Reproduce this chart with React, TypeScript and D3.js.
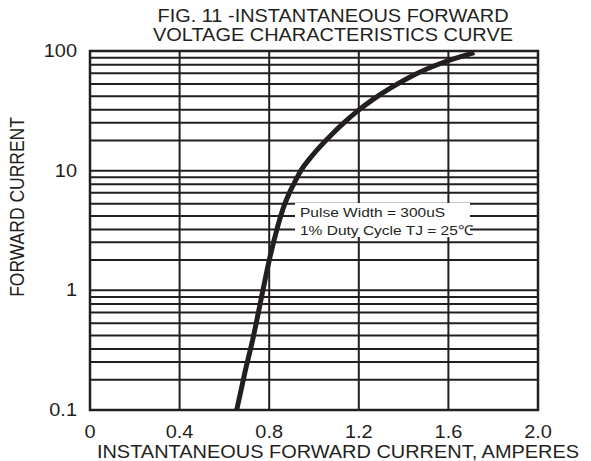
import React from "react";
import * as d3 from "d3";

const X_TICKS = [0, 0.4, 0.8, 1.2, 1.6, 2.0];
const X_TICK_LABELS = ["0", "0.4", "0.8", "1.2", "1.6", "2.0"];
const Y_TICKS = [0.1, 1, 10, 100];
const Y_TICK_LABELS = ["0.1", "1", "10", "100"];
const DECADES = [0.1, 1, 10];
const MINOR_MULTIPLIERS = [1.79, 2.52, 3.23, 4.19, 5.3, 6.53, 7.69, 8.79];

const CURVE_I = [0.1, 0.2, 0.4, 1, 1.78, 3.16, 5, 6.46, 7.94, 10, 12.6, 15.8, 20, 25.1, 31.6, 39.8, 50.1, 63.1, 79.4, 97];
const CURVE_V = [0.655, 0.69, 0.728, 0.772, 0.8, 0.833, 0.865, 0.889, 0.913, 0.941, 0.981, 1.026, 1.078, 1.133, 1.195, 1.267, 1.35, 1.446, 1.57, 1.716];

const TITLE_LINES = ["FIG. 11 -INSTANTANEOUS FORWARD", "VOLTAGE CHARACTERISTICS CURVE"];
const X_TITLE = "INSTANTANEOUS FORWARD CURRENT, AMPERES";
const Y_TITLE = "FORWARD CURRENT";
const LEGEND_LINES = ["Pulse Width = 300uS", "1% Duty Cycle TJ = 25\u2103"];

const W = 591;
const H = 461;
const M = { left: 90, right: 53, top: 51, bottom: 51 };
const INK = "#231f20";
const FONT = "'Liberation Sans', Arial, Helvetica, sans-serif";
const SX = 1.14;

function SText({ x, y, size, anchor = "middle", rotate = 0, children }: any) {
  return (
    <text
      transform={`translate(${x},${y}) scale(${SX},1) rotate(${rotate})`}
      textAnchor={anchor}
      fontSize={size}
      fontFamily={FONT}
      fill={INK}
    >
      {children}
    </text>
  );
}

export default function App() {
  const x = d3.scaleLinear().domain([0, 2]).range([M.left, W - M.right]);
  const y = d3.scaleLog().domain([0.1, 100]).range([H - M.bottom, M.top]);

  const minorVals: number[] = [];
  DECADES.forEach((d) => MINOR_MULTIPLIERS.forEach((m) => minorVals.push(d * m)));
  const hVals = [...Y_TICKS, ...minorVals];

  const pts: [number, number][] = CURVE_V.map((v, i) => [x(v), y(CURVE_I[i])]);
  const line = d3.line().curve(d3.curveMonotoneX)(pts) || "";

  const x0 = x(0), x1 = x(2), yTop = y(100), yBot = y(0.1);

  return (
    <svg width={W} height={H} style={{ position: "absolute", left: 0, top: 0, background: "#fff" }}>
      {hVals.map((v, i) => (
        <line key={"h" + i} x1={x0} x2={x1} y1={y(v)} y2={y(v)} stroke={INK} strokeWidth={2} />
      ))}
      {X_TICKS.map((v, i) => (
        <line key={"v" + i} x1={x(v)} x2={x(v)} y1={yTop} y2={yBot} stroke={INK} strokeWidth={2} />
      ))}
      <rect x={295} y={203} width={175} height={34} fill="#fff" />
      <path d={line} fill="none" stroke={INK} strokeWidth={5} />
      <rect x={x0} y={yTop} width={x1 - x0} height={yBot - yTop} fill="none" stroke={INK} strokeWidth={2.5} />
      <SText x={300} y={217} size={13.6} anchor="start">{LEGEND_LINES[0]}</SText>
      <SText x={300} y={235} size={13.6} anchor="start">{LEGEND_LINES[1]}</SText>
      {Y_TICKS.map((v, i) => (
        <SText key={"yl" + i} x={77} y={y(v) + 6} size={17.5} anchor="end">{Y_TICK_LABELS[i]}</SText>
      ))}
      {X_TICKS.map((v, i) => (
        <SText key={"xl" + i} x={x(v)} y={438} size={17.5}>{X_TICK_LABELS[i]}</SText>
      ))}
      <SText x={333} y={22} size={17.5}>{TITLE_LINES[0]}</SText>
      <SText x={333} y={41} size={17.5}>{TITLE_LINES[1]}</SText>
      <SText x={338} y={458} size={17.5}>{X_TITLE}</SText>
      <SText x={24} y={207} size={17.5} rotate={-90}>{Y_TITLE}</SText>
    </svg>
  );
}
